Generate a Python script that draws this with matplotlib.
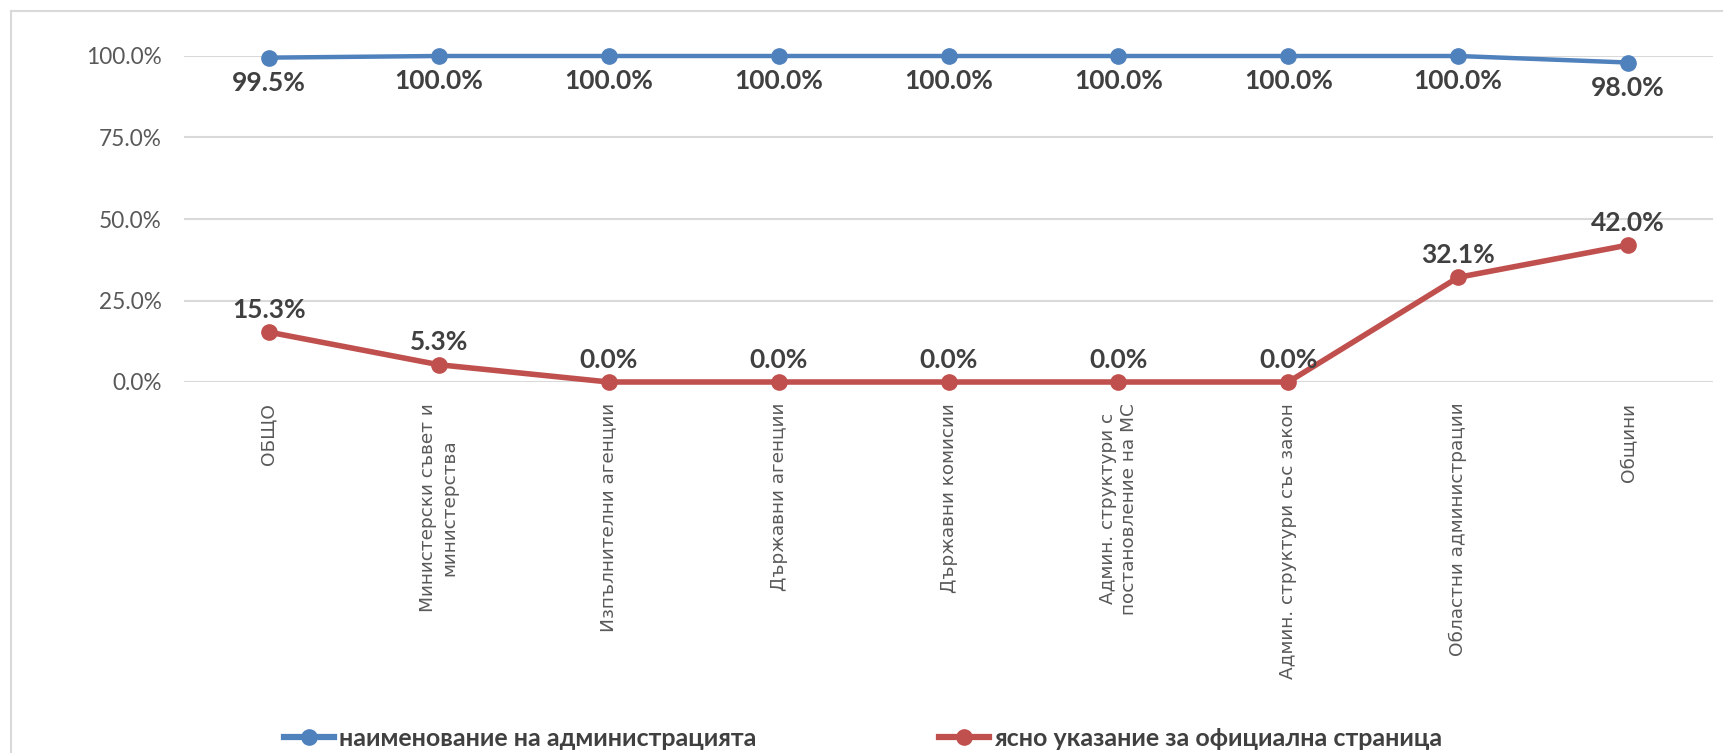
import matplotlib.pyplot as plt
from matplotlib.lines import Line2D

# Categories and values (percent)
categories = [
    "ОБЩО",
    "Министерски съвет и\nминистерства",
    "Изпълнителни агенции",
    "Държавни агенции",
    "Държавни комисии",
    "Админ. структури с\nпостановление на МС",
    "Админ. структури със закон",
    "Областни администрации",
    "Общини",
]
name_vals = [99.5, 100.0, 100.0, 100.0, 100.0, 100.0, 100.0, 100.0, 98.0]
page_vals = [15.3, 5.3, 0.0, 0.0, 0.0, 0.0, 0.0, 32.1, 42.0]
series_names = ["наименование на администрацията", "ясно указание за официална страница"]

blue = "#4F81BD"
red = "#C0504D"
label_color = "#404040"
tick_color = "#595959"
grid_color = "#D9D9D9"

fig = plt.figure(figsize=(17.23, 7.53), dpi=100)
W, H = 1723, 753
ax = fig.add_axes([184 / W, 1 - 382 / H, (1713 - 184) / W, (382 - 56) / H])

x = list(range(len(categories)))
ax.plot(x, name_vals, color=blue, lw=3.2, marker="o", ms=11, clip_on=False, zorder=3)
ax.plot(x, page_vals, color=red, lw=4, marker="o", ms=11, clip_on=False, zorder=3)

# data labels
for xi, v in zip(x, name_vals):
    ax.annotate(f"{v:.1f}%", (xi, v), xytext=(0, -18), textcoords="offset points",
                ha="center", va="center", fontsize=19, fontweight="bold",
                family="Lato", color=label_color)
for xi, v in zip(x, page_vals):
    ax.annotate(f"{v:.1f}%", (xi, v), xytext=(0, 16), textcoords="offset points",
                ha="center", va="center", fontsize=19, fontweight="bold",
                family="Lato", color=label_color)

ax.set_xlim(-0.5, 8.5)
ax.set_ylim(0, 100)
ax.set_yticks([0, 25, 50, 75, 100])
ax.set_yticklabels([f"{t:.1f}%" for t in [0, 25, 50, 75, 100]], family="Lato",
                   fontsize=16.3, color=tick_color)
ax.set_xticks(x)
ax.set_xticklabels(categories, rotation=90, va="top", ha="center",
                   multialignment="center", fontsize=13.3, color=tick_color,
                   family="DejaVu Sans")
ax.tick_params(axis="both", length=0)
ax.tick_params(axis="y", pad=16)
ax.tick_params(axis="x", pad=15)
ax.grid(axis="y", color=grid_color, lw=1.5)
ax.set_axisbelow(True)
for s in ax.spines.values():
    s.set_visible(False)

# legend
handles = [
    Line2D([], [], color=blue, lw=4.5, marker="o", ms=11),
    Line2D([], [], color=red, lw=4.5, marker="o", ms=11),
]
leg = fig.legend(handles, series_names, loc="center", bbox_to_anchor=(0.501, 1 - 738 / H),
                 ncol=2, frameon=False, handlelength=2.0, handletextpad=0.2,
                 columnspacing=7.3, prop={"family": "Lato", "weight": "bold", "size": 18})
for t in leg.get_texts():
    t.set_color(label_color)

# chart border (cropped on right and bottom)
fig.add_artist(Line2D([11 / W, 1], [1 - 11 / H, 1 - 11 / H], color=grid_color, lw=1.5))
fig.add_artist(Line2D([11 / W, 11 / W], [0, 1 - 11 / H], color=grid_color, lw=1.5))

fig.savefig("out.png", dpi=100)
